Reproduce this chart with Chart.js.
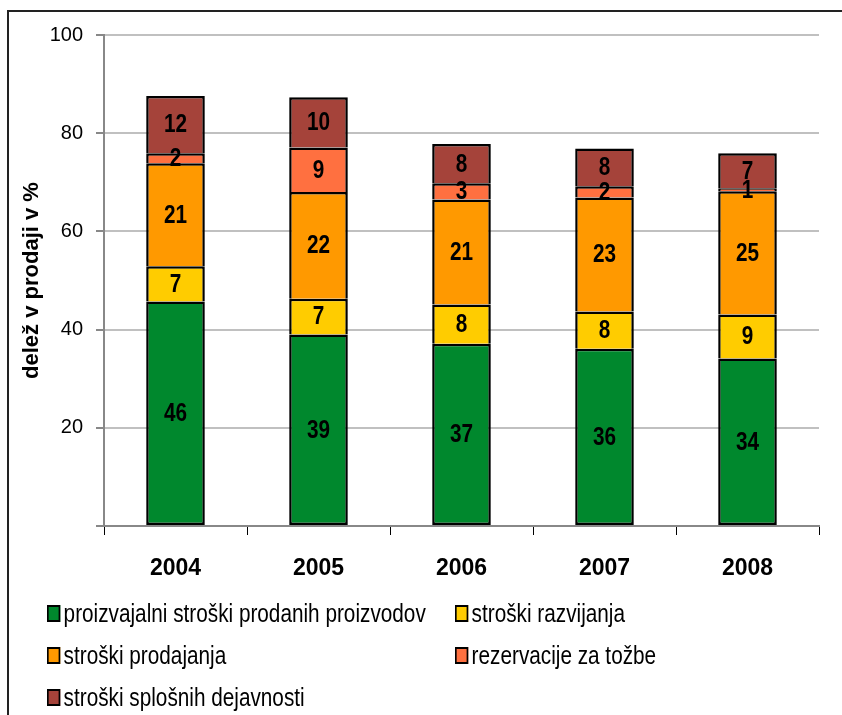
<!DOCTYPE html>
<html>
<head>
<meta charset="utf-8">
<script src="https://cdn.jsdelivr.net/npm/chart.js@4.4.1/dist/chart.umd.min.js"></script>
<style>
  body { margin: 0; background: #fff; }
  #wrap { position: relative; width: 842px; height: 715px; overflow: hidden; }
  #myChart { position: absolute; left: 0; top: 0; }
  .leg { position: absolute; font-family: 'Liberation Sans', Arial, sans-serif;
         font-size: 25px; color: #000; white-space: nowrap; line-height: 30px; height: 30px;
         transform: scaleX(0.83); transform-origin: 0 50%; }
  .leg span { display: inline-block; width: 12px; height: 13px; border: 2px solid #000; vertical-align: middle;
              margin-right: 4px; position: relative; top: -2px; }
</style>
</head>
<body>
<div id="wrap">
  <canvas id="myChart" width="842" height="715"></canvas>
  <div id="legenda"></div>
</div>
<script>
// podatki (odcitano s slike)
var leta = ['2004', '2005', '2006', '2007', '2008'];
var proizvajalni = [45.7, 39.0, 37.1, 36.1, 34.1];
var razvoj = [7.2, 7.3, 8.0, 7.6, 9.0];
var prodaja = [21.0, 21.7, 21.4, 23.2, 25.1];
var tozbe = [2.0, 9.1, 3.3, 2.3, 0.6];
var splosni = [11.7, 10.2, 8.0, 7.7, 7.1];
var yTicks = [0, 20, 40, 60, 80, 100];

var imena = ['proizvajalni stroški prodanih proizvodov', 'stroški razvijanja', 'stroški prodajanja',
  'rezervacije za tožbe', 'stroški splošnih dejavnosti'];
var barve = ['#00882d', '#ffcc00', '#ff9900', '#ff7040', '#a5433a'];
var serije = [proizvajalni, razvoj, prodaja, tozbe, splosni];

var pisava = "'Liberation Sans', Arial, sans-serif";

// okvir okoli grafa
var okvir = {
  id: 'okvir',
  beforeDraw: function (chart) {
    var c = chart.ctx;
    c.save();
    c.strokeStyle = '#222';
    c.lineWidth = 2;
    c.beginPath();
    c.moveTo(8, 715);
    c.lineTo(8, 11);
    c.lineTo(842, 11);
    c.stroke();
    c.restore();
  }
};

// vrednosti v stolpcih (ozja pisava kot v izvirniku)
var napisi = {
  id: 'napisi',
  afterDatasetsDraw: function (chart) {
    var c = chart.ctx;
    chart.data.datasets.forEach(function (ds, i) {
      chart.getDatasetMeta(i).data.forEach(function (bar, j) {
        var y = (bar.y + bar.base) / 2;
        c.save();
        c.translate(bar.x, y + 1);
        c.scale(0.83, 1);
        c.font = 'bold 25px ' + pisava;
        c.fillStyle = '#000';
        c.textAlign = 'center';
        c.textBaseline = 'middle';
        c.fillText(Math.round(ds.data[j]), 0, 0);
        c.restore();
      });
    });
  }
};

var ctx = document.getElementById('myChart').getContext('2d');
var graf = new Chart(ctx, {
  type: 'bar',
  data: {
    labels: leta,
    datasets: serije.map(function (s, i) {
      return {
        label: imena[i],
        data: s,
        backgroundColor: barve[i],
        borderColor: '#000',
        borderWidth: 2.5,
        borderSkipped: i === 0 ? false : 'start',
        categoryPercentage: 0.41,
        barPercentage: 1
      };
    })
  },
  options: {
    responsive: false,
    animation: false,
    layout: { padding: { left: 0, top: 35, right: 23, bottom: 129 } },
    plugins: {
      legend: { display: false },
      tooltip: { enabled: false }
    },
    scales: {
      x: {
        stacked: true,
        grid: { display: true, drawOnChartArea: false, drawTicks: true, tickLength: 9, tickColor: '#000', lineWidth: 1, offset: true },
        border: { color: '#888', width: 2 },
        ticks: { color: '#000', font: { family: pisava, size: 23, weight: 'bold' }, padding: 20 },
        afterFit: function (s) { s.height = 60; }
      },
      y: {
        stacked: true,
        min: 0,
        max: 100,
        afterBuildTicks: function (s) { s.ticks = yTicks.map(function (v) { return { value: v }; }); },
        grid: { color: '#c0c0c0', lineWidth: 2, tickColor: '#888', tickLength: 8 },
        border: { color: '#888', width: 2 },
        ticks: {
          color: '#000',
          font: { family: pisava, size: 20 },
          padding: 13,
          callback: function (v) { return v === 0 ? '' : v; }
        },
        title: {
          display: true,
          text: 'delež v prodaji v %',
          color: '#000',
          font: { family: pisava, size: 22, weight: 'bold' },
          padding: { top: 19, bottom: 0 }
        },
        afterFit: function (s) { s.width = 104; }
      }
    }
  },
  plugins: [okvir, napisi]
});

// legenda v dveh stolpcih
var mesta = [[47, 598], [455, 598], [47, 640], [455, 640], [47, 682]];
var leg = document.getElementById('legenda');
imena.forEach(function (ime, i) {
  var d = document.createElement('div');
  d.className = 'leg';
  d.style.left = mesta[i][0] + 'px';
  d.style.top = mesta[i][1] + 'px';
  d.innerHTML = '<span style="background:' + barve[i] + '"></span>' + ime;
  leg.appendChild(d);
});
</script>
</body>
</html>
